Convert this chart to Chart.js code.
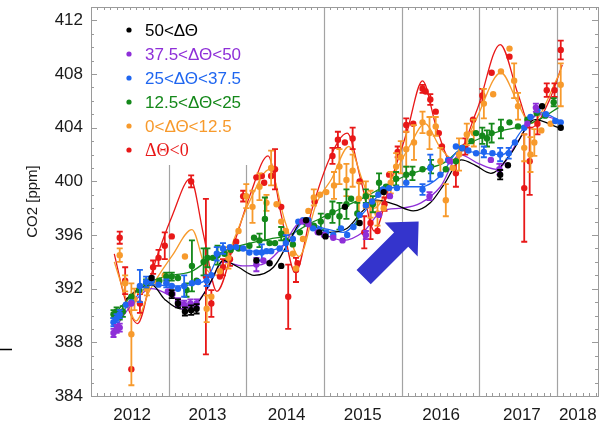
<!DOCTYPE html>
<html>
<head>
<meta charset="utf-8">
<title>CO2 [ppm]</title>
<script src="https://cdn.jsdelivr.net/npm/chart.js@4.4.1/dist/chart.umd.min.js"></script>
<style>
  html, body { margin: 0; padding: 0; background: #fff; }
  canvas { display: block; }
</style>
</head>
<body>
<canvas id="co2Chart" width="609" height="423"></canvas>
<script>
// axis ticks
var yTicks = [384, 388, 392, 396, 400, 404, 408, 412];
var xTickLabels = ['2012', '2013', '2014', '2015', '2016', '2017', '2018'];
var xTickPos = [2012.53, 2013.50, 2014.52, 2015.50, 2016.51, 2017.55, 2018.27];
var yearLines = [2013, 2014, 2015, 2016, 2017, 2018];

// legend text per class
var seriesNames = ['50<ΔΘ', '37.5<ΔΘ<50', '25<ΔΘ<37.5', '12.5<ΔΘ<25', '0<ΔΘ<12.5', 'ΔΘ<0'];
var seriesColors = ['#000000', '#8e2fd8', '#1f66f0', '#14881a', '#f79a2c', '#e81818'];

// measured points: [decimal year, ppm, error]
var blackPts = [
  [2012.78, 392.8, 0], [2013.04, 391.6, 0.3], [2013.12, 390.9, 0.3], [2013.21, 390.3, 0.3],
  [2013.29, 390.4, 0.35], [2013.36, 390.5, 0.35], [2014.13, 394.1, 0], [2014.30, 393.9, 0],
  [2014.45, 393.7, 0], [2014.77, 397.1, 0], [2014.94, 396.2, 0], [2015.02, 395.9, 0],
  [2015.27, 398.1, 0], [2015.46, 396.9, 0], [2015.77, 399.2, 0], [2017.27, 400.5, 0.35],
  [2017.37, 401.2, 0], [2017.81, 405.6, 0], [2018.05, 404.0, 0]
];
var purplePts = [
  [2012.29, 388.7, 0.3], [2012.33, 389.0, 0.3], [2012.37, 389.1, 0.3], [2012.52, 390.9, 0],
  [2012.99, 391.8, 0], [2013.05, 391.6, 0], [2013.12, 391.0, 0.3], [2013.20, 390.8, 0.3],
  [2013.28, 390.9, 0.3], [2013.36, 390.9, 0.3], [2014.13, 393.8, 0.5], [2014.22, 394.1, 0],
  [2014.72, 397.0, 0], [2014.80, 396.8, 0], [2014.92, 396.2, 0], [2015.00, 396.0, 0],
  [2015.12, 395.8, 0], [2015.24, 395.6, 0], [2015.54, 396.0, 0.3], [2015.71, 397.5, 0],
  [2015.85, 398.9, 0], [2016.36, 398.9, 0.3], [2016.62, 401.5, 0], [2017.15, 401.6, 0],
  [2017.26, 400.9, 0.4], [2017.62, 404.3, 0], [2017.73, 405.5, 0.3]
];
var bluePts = [
  [2012.29, 389.5, 0.3], [2012.33, 389.8, 0.3], [2012.37, 390.1, 0.3], [2012.45, 390.8, 0],
  [2012.52, 391.0, 0], [2012.63, 392.2, 1.2], [2012.71, 392.5, 0.4], [2012.78, 392.6, 0.3],
  [2012.87, 392.3, 0], [2012.97, 392.4, 0.3], [2013.04, 392.2, 0], [2013.12, 392.0, 0],
  [2013.20, 392.2, 0.8], [2013.30, 392.4, 0], [2013.38, 392.5, 0], [2013.49, 392.6, 0.4],
  [2013.55, 393.0, 0], [2013.62, 394.6, 0.5], [2013.70, 395.0, 0.4], [2013.79, 395.1, 0],
  [2013.87, 395.1, 0], [2013.96, 395.0, 0], [2014.04, 394.7, 0], [2014.13, 394.7, 0],
  [2014.20, 394.7, 0.6], [2014.26, 394.8, 0], [2014.32, 394.8, 0], [2014.43, 395.0, 0],
  [2014.51, 395.4, 0.6], [2014.60, 395.7, 0], [2014.67, 397.0, 0], [2014.73, 397.1, 0],
  [2014.80, 397.1, 0], [2014.86, 396.5, 0], [2014.94, 396.4, 0], [2015.03, 396.2, 0],
  [2015.12, 396.0, 0], [2015.22, 396.5, 0], [2015.30, 396.0, 0], [2015.38, 396.6, 0],
  [2015.46, 397.5, 0], [2015.54, 398.2, 0], [2015.62, 398.5, 0], [2015.70, 399.0, 0],
  [2015.76, 399.4, 0], [2015.84, 399.5, 0], [2015.94, 399.5, 0], [2016.06, 399.9, 0],
  [2016.27, 399.4, 0.4], [2016.37, 401.0, 1.0], [2016.50, 400.5, 0], [2016.60, 401.6, 0],
  [2016.70, 402.6, 0], [2016.78, 402.5, 0], [2016.86, 402.3, 0], [2016.96, 402.1, 0],
  [2017.06, 402.2, 0.4], [2017.17, 402.1, 0], [2017.27, 402.0, 0.5], [2017.38, 402.1, 0.4],
  [2017.46, 402.9, 0], [2017.58, 404.0, 0], [2017.66, 404.8, 0], [2017.75, 405.3, 0],
  [2017.86, 405.0, 0], [2017.98, 404.5, 0], [2018.05, 404.4, 0]
];
var greenPts = [
  [2012.29, 390.1, 0.3], [2012.33, 390.3, 0.3], [2012.37, 390.0, 0.3], [2012.41, 390.3, 0.4],
  [2012.52, 391.4, 0], [2012.62, 391.9, 0], [2012.71, 392.4, 0.3], [2012.78, 392.6, 0],
  [2012.88, 392.6, 0], [2012.97, 392.9, 0.3], [2013.04, 392.9, 0.3], [2013.12, 392.8, 0],
  [2013.23, 391.9, 0.5], [2013.30, 393.7, 1.9], [2013.36, 392.6, 0], [2013.45, 394.0, 1.0],
  [2013.50, 394.3, 0.7], [2013.57, 394.3, 0], [2013.63, 394.5, 0.7], [2013.72, 394.6, 0],
  [2013.80, 394.9, 0], [2013.90, 395.0, 0], [2014.04, 395.2, 0], [2014.10, 395.8, 0],
  [2014.17, 395.6, 0.5], [2014.24, 397.2, 1.6], [2014.30, 395.4, 0], [2014.37, 395.4, 0],
  [2014.45, 396.1, 0.5], [2014.51, 395.6, 0], [2014.60, 395.3, 0], [2014.69, 396.2, 0],
  [2014.77, 396.9, 0], [2014.87, 396.7, 0], [2014.96, 397.0, 0.6], [2015.05, 397.4, 0],
  [2015.11, 397.7, 0.8], [2015.20, 397.4, 1.0], [2015.29, 398.3, 1.1], [2015.35, 398.7, 0],
  [2015.43, 397.6, 0.8], [2015.54, 398.9, 0.5], [2015.63, 398.3, 0.6], [2015.71, 399.9, 0.7],
  [2015.80, 399.6, 0], [2015.93, 400.2, 0.5], [2016.06, 400.5, 0.6], [2016.14, 400.6, 0.5],
  [2016.27, 400.9, 0], [2016.38, 401.1, 0.5], [2016.57, 400.9, 0], [2016.70, 401.5, 0],
  [2016.78, 402.5, 0], [2016.90, 403.0, 0], [2016.96, 403.6, 0], [2017.04, 403.4, 0.6],
  [2017.10, 403.2, 0.6], [2017.16, 403.6, 0.7], [2017.28, 403.9, 0.7], [2017.39, 404.4, 0],
  [2017.50, 404.1, 0], [2017.62, 404.6, 0], [2017.74, 405.1, 0], [2017.85, 404.9, 0],
  [2017.96, 405.9, 0.3]
];
var orangePts = [
  [2012.37, 394.5, 0.5], [2012.44, 392.4, 0.6], [2012.52, 388.6, 3.8], [2012.56, 391.2, 0.8],
  [2012.63, 391.8, 0], [2012.72, 392.0, 0.5], [2012.86, 392.4, 0], [2012.95, 393.0, 0],
  [2013.21, 394.4, 0], [2013.49, 390.5, 1.0], [2013.55, 391.4, 0], [2013.66, 393.3, 0],
  [2013.77, 394.3, 0.8], [2013.90, 396.3, 0], [2014.00, 398.9, 0.9], [2014.08, 398.1, 1.2],
  [2014.17, 399.6, 1.0], [2014.26, 398.4, 0.6], [2014.32, 401.0, 1.3], [2014.39, 398.3, 0],
  [2014.45, 397.0, 0], [2014.51, 396.3, 0], [2014.60, 394.6, 0], [2014.64, 393.5, 0],
  [2014.73, 395.7, 0], [2014.80, 397.8, 0], [2014.87, 398.8, 0.6], [2014.95, 399.0, 0],
  [2015.03, 399.2, 0], [2015.13, 399.7, 1.0], [2015.20, 401.1, 1.3], [2015.29, 400.1, 1.2],
  [2015.37, 400.8, 1.2], [2015.45, 398.7, 1.2], [2015.54, 399.0, 1.0], [2015.60, 398.3, 1.0],
  [2015.69, 397.6, 0.9], [2015.77, 398.0, 0], [2015.86, 399.9, 0.8], [2015.93, 401.1, 1.0],
  [2015.99, 401.8, 1.2], [2016.06, 402.4, 1.3], [2016.16, 402.9, 1.3], [2016.27, 404.4, 0.8],
  [2016.36, 403.6, 1.2], [2016.44, 404.1, 0.7], [2016.50, 401.5, 1.0], [2016.57, 398.6, 1.2],
  [2016.66, 401.0, 0], [2016.74, 402.0, 1.2], [2016.84, 403.5, 0.8], [2016.93, 403.6, 1.0],
  [2017.06, 405.8, 1.1], [2017.18, 406.5, 0], [2017.28, 408.2, 0], [2017.39, 409.9, 0],
  [2017.45, 407.5, 1.3], [2017.50, 405.6, 1.0], [2017.58, 402.5, 1.0], [2017.66, 402.0, 1.3],
  [2017.71, 402.9, 1.0], [2017.80, 403.8, 0], [2017.92, 404.3, 0], [2018.05, 407.2, 1.6]
];
var redPts = [
  [2012.37, 395.8, 0.45], [2012.44, 392.6, 1.0], [2012.52, 386.0, 0], [2012.63, 390.9, 0.7],
  [2012.80, 393.6, 0.5], [2012.87, 394.3, 0.6], [2012.95, 395.2, 1.0], [2013.04, 395.9, 0],
  [2013.29, 400.0, 0.45], [2013.48, 392.9, 5.8], [2013.55, 390.9, 1.0], [2013.66, 392.9, 0],
  [2013.70, 393.6, 0.6], [2013.79, 394.2, 0.5], [2013.87, 395.5, 0], [2013.96, 398.9, 0.4],
  [2014.13, 400.3, 0], [2014.20, 400.4, 0], [2014.23, 399.9, 0], [2014.32, 400.4, 0],
  [2014.37, 400.9, 1.5], [2014.45, 398.1, 0], [2014.54, 391.4, 2.4], [2014.64, 393.4, 0.9],
  [2014.66, 393.9, 0], [2014.88, 398.5, 0], [2015.11, 401.9, 0.6], [2015.18, 403.1, 0.6],
  [2015.27, 402.9, 0], [2015.37, 403.2, 0.8], [2015.46, 400.0, 0], [2015.52, 396.2, 1.2],
  [2015.60, 396.9, 1.2], [2015.69, 396.3, 0], [2015.78, 398.3, 0.5], [2015.84, 400.5, 0],
  [2015.95, 402.2, 0.4], [2016.06, 404.2, 0.5], [2016.15, 404.3, 0], [2016.27, 406.9, 0.3],
  [2016.31, 406.7, 0], [2016.37, 406.1, 0.4], [2016.44, 405.2, 0], [2016.48, 403.6, 0],
  [2016.52, 402.6, 0], [2016.70, 400.6, 1.0], [2016.82, 402.6, 0.6], [2016.92, 404.6, 0],
  [2017.04, 406.4, 0.5], [2017.16, 408.1, 0], [2017.39, 409.3, 0], [2017.58, 399.5, 4.0],
  [2017.65, 401.5, 2.5], [2017.75, 404.3, 0.8], [2017.87, 406.8, 0.5], [2017.97, 406.8, 0.5],
  [2018.05, 409.8, 0.7]
];

// smoothed fits: [decimal year, ppm]
var blackFit = [
  [2012.45, 391.2], [2012.62, 392.0], [2012.78, 392.3], [2012.95, 391.2], [2013.15, 390.5],
  [2013.38, 391.0], [2013.55, 392.6], [2013.70, 394.1], [2013.90, 393.6], [2014.10, 393.0],
  [2014.35, 393.6], [2014.55, 395.5], [2014.72, 397.0], [2014.90, 396.6], [2015.07, 396.2],
  [2015.30, 396.5], [2015.50, 397.8], [2015.68, 398.6], [2015.90, 398.3], [2016.15, 397.8],
  [2016.37, 398.4], [2016.55, 399.8], [2016.77, 401.6], [2016.95, 401.2], [2017.15, 400.6],
  [2017.40, 402.0], [2017.72, 404.6], [2018.02, 404.0]
];
var purpleFit = [
  [2012.28, 388.8], [2012.55, 391.0], [2012.78, 392.0], [2013.05, 391.4], [2013.28, 390.7],
  [2013.50, 392.0], [2013.70, 394.0], [2013.95, 393.7], [2014.20, 393.8], [2014.45, 395.0],
  [2014.70, 396.9], [2014.95, 396.2], [2015.25, 395.6], [2015.50, 396.2], [2015.75, 397.8],
  [2016.00, 398.0], [2016.25, 398.4], [2016.50, 399.6], [2016.75, 402.0], [2017.00, 401.3],
  [2017.22, 400.9], [2017.50, 403.0], [2017.75, 405.0], [2018.00, 404.6]
];
var blueFit = [
  [2012.28, 389.4], [2012.55, 391.2], [2012.80, 392.3], [2013.05, 392.2], [2013.30, 392.3],
  [2013.50, 392.8], [2013.65, 394.5], [2013.85, 395.0], [2014.10, 394.8], [2014.35, 394.9],
  [2014.55, 395.6], [2014.75, 397.0], [2015.00, 396.5], [2015.25, 396.2], [2015.50, 397.6],
  [2015.75, 399.2], [2016.00, 399.6], [2016.25, 399.6], [2016.50, 400.4], [2016.75, 402.3],
  [2017.00, 402.1], [2017.30, 402.0], [2017.55, 403.8], [2017.80, 405.1], [2018.05, 404.5]
];
var greenFit = [
  [2012.28, 390.0], [2012.55, 391.6], [2012.80, 392.6], [2013.05, 393.0], [2013.30, 393.3],
  [2013.55, 394.3], [2013.80, 395.0], [2014.05, 395.4], [2014.30, 395.7], [2014.55, 396.0],
  [2014.80, 396.8], [2015.05, 397.5], [2015.30, 398.2], [2015.55, 398.9], [2015.80, 399.7],
  [2016.05, 400.4], [2016.30, 400.9], [2016.55, 401.4], [2016.80, 402.6], [2017.05, 403.3],
  [2017.30, 403.8], [2017.55, 404.1], [2017.80, 404.7], [2018.02, 405.5]
];
var orangeFit = [
  [2012.30, 394.0], [2012.45, 391.3], [2012.58, 389.6], [2012.75, 391.8], [2013.05, 394.5],
  [2013.30, 396.4], [2013.48, 393.5], [2013.65, 393.0], [2013.85, 395.8], [2014.05, 398.6],
  [2014.30, 400.9], [2014.50, 397.0], [2014.68, 394.4], [2014.90, 398.3], [2015.10, 400.2],
  [2015.32, 402.6], [2015.50, 400.0], [2015.65, 398.0], [2015.90, 400.5], [2016.10, 402.6],
  [2016.30, 404.3], [2016.50, 402.5], [2016.68, 401.6], [2016.95, 404.5], [2017.28, 408.1],
  [2017.50, 405.8], [2017.66, 404.3], [2018.05, 408.2]
];
var redFit = [
  [2012.30, 394.6], [2012.45, 391.0], [2012.60, 389.4], [2012.80, 393.5], [2013.05, 397.5],
  [2013.28, 400.2], [2013.45, 396.0], [2013.62, 391.8], [2013.85, 395.5], [2014.05, 399.0],
  [2014.28, 401.9], [2014.45, 397.5], [2014.63, 393.2], [2014.85, 398.0], [2015.08, 401.8],
  [2015.30, 403.6], [2015.48, 400.0], [2015.65, 396.3], [2015.85, 399.8], [2016.07, 403.7],
  [2016.27, 407.5], [2016.45, 404.0], [2016.65, 401.4], [2016.97, 405.3], [2017.27, 410.2],
  [2017.50, 406.5], [2017.67, 404.0], [2017.90, 406.0], [2018.07, 408.7]
];

// arrow tip position in data units
var arrowTip = [2016.22, 397.0];

var allPts = [blackPts, purplePts, bluePts, greenPts, orangePts, redPts];
var allFits = [blackFit, purpleFit, blueFit, greenFit, orangeFit, redFit];

var FONT = "'Liberation Sans', Arial, sans-serif";

var datasets = [];
allPts.forEach(function(pts, i) {
  datasets.push({
    label: seriesNames[i],
    data: pts.map(function(p) { return { x: p[0], y: p[1] }; }),
    errBars: pts.map(function(p) { return p[2]; }),
    showLine: false,
    pointRadius: 3.2,
    pointHoverRadius: 3.2,
    pointBorderWidth: 0,
    pointBackgroundColor: seriesColors[i],
    borderColor: seriesColors[i],
    order: 0
  });
});
allFits.forEach(function(fit, i) {
  datasets.push({
    label: seriesNames[i] + ' fit',
    data: fit.map(function(p) { return { x: p[0], y: p[1] }; }),
    borderColor: seriesColors[i],
    borderWidth: 1.3,
    pointRadius: 0,
    fill: false,
    cubicInterpolationMode: 'monotone',
    order: 1
  });
});

// vertical year lines behind the data
var yearLinePlugin = {
  id: 'yearLines',
  beforeDatasetsDraw: function(chart) {
    var ctx = chart.ctx, area = chart.chartArea, xs = chart.scales.x;
    ctx.save();
    ctx.strokeStyle = '#a3a3a3';
    ctx.lineWidth = 1.2;
    yearLines.forEach(function(yr) {
      var px = Math.round(xs.getPixelForValue(yr)) + 0.5;
      ctx.beginPath();
      ctx.moveTo(px, area.top);
      ctx.lineTo(px, area.bottom);
      ctx.stroke();
    });
    ctx.restore();
  }
};

// error bars with caps, drawn under each dataset's points
var errorBarPlugin = {
  id: 'errorBars',
  beforeDatasetDraw: function(chart, args) {
    var ds = chart.data.datasets[args.index];
    if (!ds.errBars) return;
    var ctx = chart.ctx, ys = chart.scales.y;
    ctx.save();
    ctx.strokeStyle = ds.borderColor;
    ctx.lineWidth = 1.8;
    args.meta.data.forEach(function(pt, i) {
      var e = ds.errBars[i];
      if (!e) return;
      var v = ds.data[i].y;
      var top = ys.getPixelForValue(v + e), bot = ys.getPixelForValue(v - e);
      ctx.beginPath();
      ctx.moveTo(pt.x, top); ctx.lineTo(pt.x, bot);
      ctx.moveTo(pt.x - 3, top); ctx.lineTo(pt.x + 3, top);
      ctx.moveTo(pt.x - 3, bot); ctx.lineTo(pt.x + 3, bot);
      ctx.stroke();
    });
    ctx.restore();
  }
};

// legend box in the upper left corner and the blue arrow
var overlayPlugin = {
  id: 'overlay',
  afterDatasetsDraw: function(chart) {
    var ctx = chart.ctx, area = chart.chartArea;
    ctx.save();
    ctx.fillStyle = '#fff';
    ctx.fillRect(area.left + 1, area.top + 1, 166, 157);
    ctx.textBaseline = 'middle';
    seriesNames.forEach(function(name, i) {
      var y = area.top + 23 + i * 24;
      ctx.fillStyle = seriesColors[i];
      ctx.beginPath();
      ctx.arc(area.left + 38, y, 2.6, 0, Math.PI * 2);
      ctx.fill();
      ctx.font = i === 5 ? "18px 'Liberation Serif', serif" : '17px ' + FONT;
      ctx.fillText(name, area.left + 54, y + 1);
    });

    var tx = chart.scales.x.getPixelForValue(arrowTip[0]);
    var ty = chart.scales.y.getPixelForValue(arrowTip[1]);
    var shape = [[0, 0], [-34, 1], [-24.6, 10.9], [-62.1, 48.4], [-47.9, 62.6], [-10.4, 25.1], [-1, 35]];
    ctx.fillStyle = '#3434cc';
    ctx.beginPath();
    shape.forEach(function(p, i) {
      if (i === 0) ctx.moveTo(tx + p[0], ty + p[1]);
      else ctx.lineTo(tx + p[0], ty + p[1]);
    });
    ctx.closePath();
    ctx.fill();
    ctx.restore();
  }
};

// plot frame with inward ticks on all four sides
var framePlugin = {
  id: 'frame',
  afterDraw: function(chart) {
    var ctx = chart.ctx, a = chart.chartArea, xs = chart.scales.x, ys = chart.scales.y;
    ctx.save();
    ctx.strokeStyle = '#9a9a9a';
    ctx.lineWidth = 1;
    ctx.strokeRect(Math.round(a.left) + 0.5, Math.round(a.top) + 0.5,
                   Math.round(a.right - a.left), Math.round(a.bottom - a.top));
    ctx.beginPath();
    for (var v = 385; v <= 412; v++) {
      var len = yTicks.indexOf(v) >= 0 ? 6 : 3;
      var py = Math.round(ys.getPixelForValue(v)) + 0.5;
      ctx.moveTo(a.left, py); ctx.lineTo(a.left + len, py);
      ctx.moveTo(a.right, py); ctx.lineTo(a.right - len, py);
    }
    for (var m = 1; m < 79; m++) {
      if (m % 12 === 0) continue;
      var px = Math.round(xs.getPixelForValue(2012 + m / 12)) + 0.5;
      if (px >= a.right) break;
      ctx.moveTo(px, a.bottom); ctx.lineTo(px, a.bottom - 3);
      ctx.moveTo(px, a.top); ctx.lineTo(px, a.top + 3);
    }
    ctx.stroke();

    // short black rule at the left margin
    ctx.strokeStyle = '#000';
    ctx.lineWidth = 1.5;
    ctx.beginPath();
    ctx.moveTo(0, 349.5); ctx.lineTo(12, 349.5);
    ctx.stroke();
    ctx.restore();
  }
};

new Chart(document.getElementById('co2Chart'), {
  type: 'line',
  data: { datasets: datasets },
  options: {
    responsive: false,
    animation: false,
    devicePixelRatio: 1,
    layout: { padding: { top: 7, right: 11, left: 0, bottom: 0 } },
    plugins: { legend: { display: false }, tooltip: { enabled: false } },
    scales: {
      x: {
        type: 'linear',
        min: 2012.0,
        max: 2018.53,
        grid: { display: false, drawTicks: false },
        border: { display: false },
        ticks: {
          padding: 9,
          color: '#1a1a1a',
          font: { family: FONT, size: 17 },
          maxRotation: 0,
          autoSkip: false,
          callback: function(value, index) { return xTickLabels[index]; }
        },
        afterBuildTicks: function(scale) {
          scale.ticks = xTickPos.map(function(v) { return { value: v }; });
        },
        afterFit: function(scale) {
          scale.height = 27;
          scale.paddingLeft = 0;
          scale.paddingRight = 0;
        }
      },
      y: {
        min: 384,
        max: 413,
        grid: { display: false, drawTicks: false },
        border: { display: false },
        ticks: {
          padding: 8,
          color: '#1a1a1a',
          font: { family: FONT, size: 17 }
        },
        afterBuildTicks: function(scale) {
          scale.ticks = yTicks.map(function(v) { return { value: v }; });
        },
        title: {
          display: true,
          text: 'CO2 [ppm]',
          color: '#1a1a1a',
          font: { family: FONT, size: 15 },
          padding: { top: 24, bottom: 0 }
        },
        afterFit: function(scale) {
          scale.width = 91;
          scale.paddingTop = 0;
          scale.paddingBottom = 0;
        }
      }
    }
  },
  plugins: [yearLinePlugin, errorBarPlugin, overlayPlugin, framePlugin]
});
</script>
</body>
</html>
